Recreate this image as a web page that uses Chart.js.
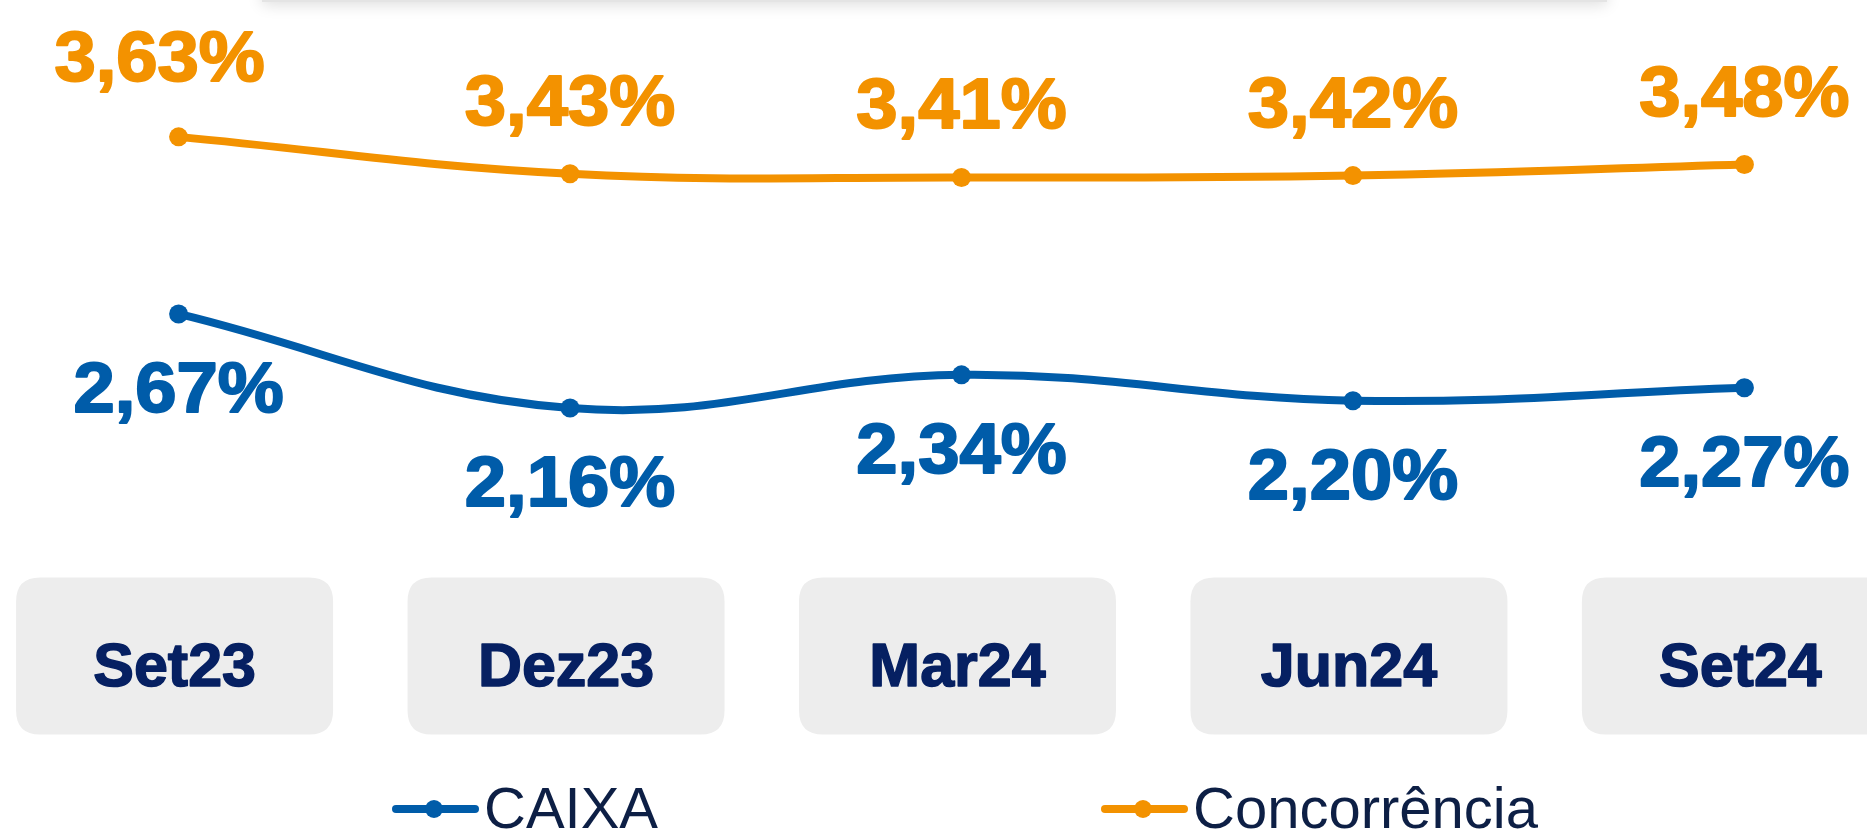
<!DOCTYPE html>
<html>
<head>
<meta charset="utf-8">
<script src="https://cdn.jsdelivr.net/npm/chart.js@4/dist/chart.umd.min.js"></script>
<style>
  html, body { margin: 0; padding: 0; background: #ffffff; overflow: hidden; }
  #wrap { position: relative; width: 1867px; height: 833px; }
  #topcard { position: absolute; left: 262px; top: -60px; width: 1345px; height: 62px;
             background: #e4e4e4; box-shadow: 0 3px 14px rgba(0,0,0,0.13); z-index: 2; }
  canvas { position: absolute; left: 0; top: 0; }
</style>
</head>
<body>
<div id="wrap">
  <div id="topcard"></div>
  <canvas id="c" width="1867" height="833"></canvas>
</div>
<script>
// ---- data ----
const categories = ['Set23', 'Dez23', 'Mar24', 'Jun24', 'Set24'];
const caixa = [2.67, 2.16, 2.34, 2.20, 2.27];
const concorrencia = [3.63, 3.43, 3.41, 3.42, 3.48];
const seriesNames = ['CAIXA', 'Concorrência'];

// ---- styles ----
const BLUE = '#005CA9';
const ORANGE = '#F39200';
const NAVY = '#062062';
const LEGEND_NAVY = '#0D1F45';

function fmt(v) { return v.toFixed(2).replace('.', ',') + '%'; }

function heavyText(ctx, text, x, y, color, sx, stroke) {
  ctx.save();
  ctx.translate(x, y);
  ctx.scale(sx, 1);
  ctx.fillStyle = color;
  ctx.strokeStyle = color;
  ctx.lineWidth = stroke;
  ctx.lineJoin = 'round';
  ctx.fillText(text, 0, 0);
  if (stroke > 0) ctx.strokeText(text, 0, 0);
  ctx.restore();
}

const valueLabels = {
  id: 'valueLabels',
  afterDatasetsDraw(chart) {
    const ctx = chart.ctx;
    ctx.save();
    ctx.font = 'bold 70px "Liberation Sans", Arial, sans-serif';
    ctx.textAlign = 'center';
    ctx.textBaseline = 'alphabetic';
    chart.data.datasets.forEach((ds, di) => {
      const meta = chart.getDatasetMeta(di);
      const o = ds.labelOffset;
      meta.data.forEach((pt, i) => {
        const extra = (ds.labelAdjust && ds.labelAdjust[i]) || [0, 0];
        heavyText(ctx, fmt(ds.data[i]), pt.x + extra[0], pt.y + o + extra[1], ds.borderColor, 1.06, 2);
      });
    });
    ctx.restore();
  }
};

function roundRect(ctx, x, y, w, h, r) {
  ctx.beginPath();
  ctx.moveTo(x + r, y);
  ctx.lineTo(x + w - r, y);
  ctx.quadraticCurveTo(x + w, y, x + w, y + r);
  ctx.lineTo(x + w, y + h - r);
  ctx.quadraticCurveTo(x + w, y + h, x + w - r, y + h);
  ctx.lineTo(x + r, y + h);
  ctx.quadraticCurveTo(x, y + h, x, y + h - r);
  ctx.lineTo(x, y + r);
  ctx.quadraticCurveTo(x, y, x + r, y);
  ctx.closePath();
}

const categoryBoxes = {
  id: 'categoryBoxes',
  beforeDatasetsDraw(chart) {
    const ctx = chart.ctx;
    const xs = chart.scales.x;
    ctx.save();
    chart.data.labels.forEach((lab, i) => {
      const cx = xs.getPixelForValue(i) - 4;
      const w = 317, h = 157, top = 577.5;
      ctx.fillStyle = '#EDEDED';
      roundRect(ctx, cx - w / 2, top, w, h, 24);
      ctx.fill();
      ctx.font = 'bold 61px "Liberation Sans", Arial, sans-serif';
      ctx.textAlign = 'center';
      ctx.textBaseline = 'alphabetic';
      heavyText(ctx, lab, cx, 686, NAVY, 1.0, 1.5);
    });
    ctx.restore();
  }
};

const customLegend = {
  id: 'customLegend',
  afterDraw(chart) {
    const ctx = chart.ctx;
    const items = [
      { x: 392, ds: chart.data.datasets[0] },
      { x: 1101, ds: chart.data.datasets[1] }
    ];
    ctx.save();
    items.forEach(it => {
      const y = 809;
      ctx.strokeStyle = it.ds.borderColor;
      ctx.lineWidth = 8;
      ctx.lineCap = 'round';
      ctx.beginPath();
      ctx.moveTo(it.x + 4, y);
      ctx.lineTo(it.x + 83, y);
      ctx.stroke();
      ctx.fillStyle = it.ds.borderColor;
      ctx.beginPath();
      ctx.arc(it.x + 42, y, 9, 0, Math.PI * 2);
      ctx.fill();
      ctx.fillStyle = LEGEND_NAVY;
      ctx.font = '58px "Liberation Sans", Arial, sans-serif';
      ctx.textAlign = 'left';
      ctx.textBaseline = 'alphabetic';
      ctx.fillText(it.ds.label, it.x + 92, 828);
    });
    ctx.restore();
  }
};

new Chart(document.getElementById('c'), {
  type: 'line',
  data: {
    labels: categories,
    datasets: [
      {
        label: seriesNames[0],
        data: caixa,
        borderColor: BLUE,
        backgroundColor: BLUE,
        pointBackgroundColor: BLUE,
        borderWidth: 8,
        pointRadius: 9.5,
        pointBorderWidth: 0,
        tension: 0.4,
        clip: false,
        labelOffset: 98
      },
      {
        label: seriesNames[1],
        data: concorrencia,
        borderColor: ORANGE,
        backgroundColor: ORANGE,
        pointBackgroundColor: ORANGE,
        borderWidth: 8,
        pointRadius: 9.5,
        pointBorderWidth: 0,
        tension: 0.4,
        clip: false,
        labelOffset: -49,
        labelAdjust: [[-19, -7]]
      }
    ]
  },
  options: {
    responsive: false,
    animation: false,
    devicePixelRatio: 1,
    layout: { padding: { left: 178.6, right: 122.6, top: 105.5, bottom: 395.4 } },
    plugins: { legend: { display: false }, tooltip: { enabled: false } },
    scales: {
      x: { display: false },
      y: { display: false, min: 2.0, max: 3.8 }
    }
  },
  plugins: [categoryBoxes, valueLabels, customLegend]
});
</script>
</body>
</html>
